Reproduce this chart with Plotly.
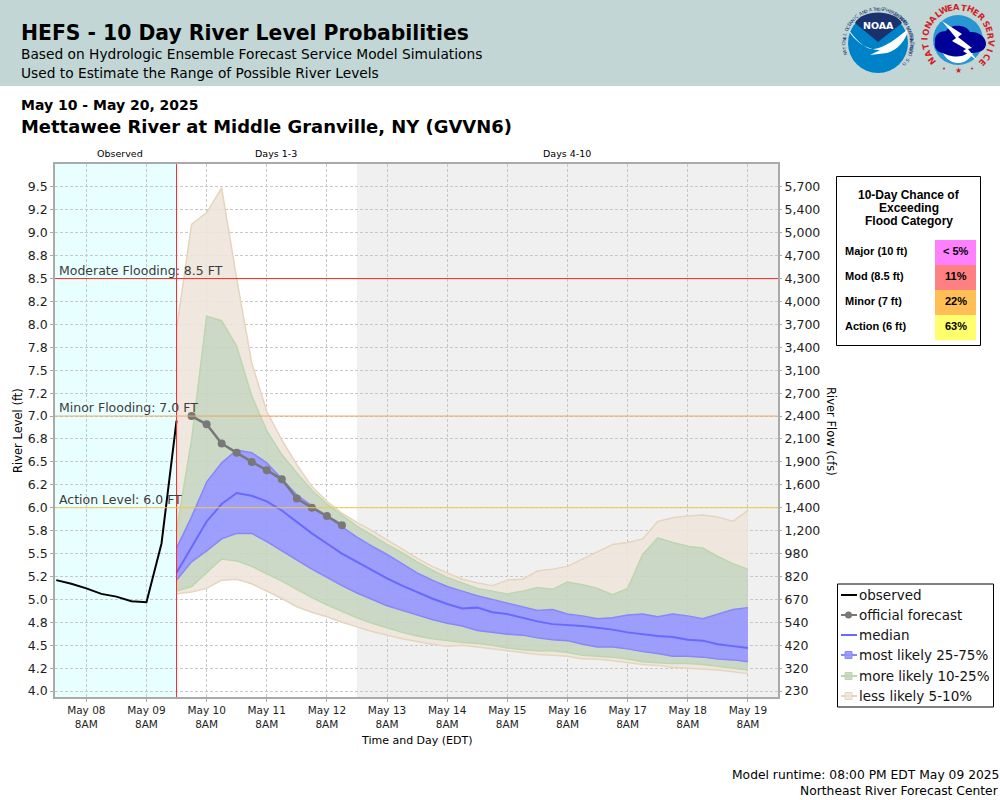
import math

import pandas as pd
import plotly.graph_objects as go

# river levels in ft, every 6 hours
observed_times = pd.date_range("2025-05-07 20:00", periods=9, freq="6h")
observed = [5.21, 5.17, 5.12, 5.06, 5.03, 4.98, 4.97, 5.61, 6.95]

forecast_times = pd.date_range("2025-05-09 20:00", periods=39, freq="6h")
official = [7.00, 6.91, 6.70, 6.60, 6.50, 6.41, 6.31, 6.10, 6.00, 5.91, 5.81]

p95 = [7.95, 9.09, 9.22, 9.49, 8.50, 7.58, 7.05, 6.74, 6.47, 6.23, 6.07, 5.94, 5.84,
       5.75, 5.65, 5.55, 5.45, 5.36, 5.29, 5.22, 5.18, 5.15, 5.21, 5.22, 5.31, 5.33,
       5.36, 5.44, 5.52, 5.60, 5.62, 5.66, 5.85, 5.89, 5.91, 5.92, 5.90, 5.85, 5.97]
p90 = [5.75, 6.74, 8.09, 8.04, 7.76, 7.22, 6.84, 6.58, 6.38, 6.19, 6.04, 5.92, 5.80,
       5.70, 5.60, 5.51, 5.41, 5.32, 5.24, 5.18, 5.12, 5.09, 5.06, 5.09, 5.13, 5.11,
       5.19, 5.16, 5.12, 5.05, 5.12, 5.49, 5.67, 5.62, 5.58, 5.56, 5.47, 5.39, 5.33]
p75 = [5.56, 5.90, 6.28, 6.49, 6.63, 6.60, 6.49, 6.32, 6.14, 6.02, 5.90, 5.79, 5.68,
       5.58, 5.49, 5.39, 5.29, 5.21, 5.14, 5.09, 5.04, 5.00, 4.96, 4.92, 4.88, 4.89,
       4.84, 4.82, 4.79, 4.80, 4.83, 4.84, 4.81, 4.84, 4.82, 4.79, 4.84, 4.89, 4.91]
median = [5.29, 5.57, 5.85, 6.04, 6.16, 6.13, 6.07, 5.97, 5.84, 5.72, 5.61, 5.50, 5.41,
          5.32, 5.23, 5.15, 5.08, 5.01, 4.95, 4.90, 4.91, 4.86, 4.84, 4.80, 4.76, 4.73,
          4.72, 4.71, 4.69, 4.67, 4.64, 4.62, 4.60, 4.59, 4.56, 4.55, 4.51, 4.49, 4.47]
p25 = [5.21, 5.41, 5.53, 5.66, 5.72, 5.72, 5.63, 5.53, 5.43, 5.33, 5.24, 5.15, 5.07,
       5.00, 4.93, 4.88, 4.83, 4.78, 4.74, 4.71, 4.66, 4.64, 4.62, 4.61, 4.58, 4.56,
       4.55, 4.51, 4.48, 4.48, 4.46, 4.43, 4.41, 4.38, 4.38, 4.37, 4.35, 4.34, 4.32]
p10 = [5.09, 5.14, 5.29, 5.44, 5.42, 5.36, 5.28, 5.20, 5.11, 5.02, 4.94, 4.87, 4.80,
       4.74, 4.69, 4.64, 4.60, 4.57, 4.55, 4.53, 4.52, 4.50, 4.47, 4.45, 4.44, 4.44,
       4.42, 4.39, 4.38, 4.37, 4.35, 4.32, 4.31, 4.30, 4.30, 4.29, 4.27, 4.25, 4.23]
p05 = [5.06, 5.08, 5.12, 5.21, 5.22, 5.17, 5.09, 5.01, 4.92, 4.86, 4.81, 4.75, 4.70,
       4.65, 4.61, 4.57, 4.54, 4.51, 4.49, 4.50, 4.48, 4.46, 4.44, 4.42, 4.40, 4.39,
       4.38, 4.35, 4.35, 4.33, 4.31, 4.29, 4.28, 4.26, 4.25, 4.24, 4.23, 4.21, 4.19]

# axis ticks
level_ticks = [4.0, 4.25, 4.5, 4.75, 5.0, 5.25, 5.5, 5.75, 6.0, 6.25, 6.5, 6.75, 7.0,
               7.25, 7.5, 7.75, 8.0, 8.25, 8.5, 8.75, 9.0, 9.25, 9.5]
level_labels = ["4.0", "4.2", "4.5", "4.8", "5.0", "5.2", "5.5", "5.8", "6.0", "6.2", "6.5", "6.8",
                "7.0", "7.2", "7.5", "7.8", "8.0", "8.2", "8.5", "8.8", "9.0", "9.2", "9.5"]
flow_labels = ["230", "320", "420", "540", "670", "820", "980", "1,200", "1,400", "1,600", "1,900",
               "2,100", "2,400", "2,700", "3,100", "3,400", "3,700", "4,000", "4,300", "4,700",
               "5,000", "5,400", "5,700"]
day_ticks = pd.date_range("2025-05-08 08:00", periods=12, freq="24h")
day_labels = [d.strftime("May %d") + "<br>8AM" for d in day_ticks]

# flood thresholds
flood_levels = [8.5, 7.0, 6.0]
flood_labels = ["Moderate Flooding: 8.5 FT", "Minor Flooding: 7.0 FT", "Action Level: 6.0 FT"]
flood_colors = ["rgb(255,40,40)", "rgb(238,170,100)", "rgb(243,200,80)"]

# exceedance table
table_categories = ["Major (10 ft)", "Mod (8.5 ft)", "Minor (7 ft)", "Action (6 ft)"]
table_chances = ["< 5%", "11%", "22%", "63%"]
table_colors = ["rgb(255,128,255)", "rgb(255,128,128)", "rgb(255,191,85)", "rgb(255,255,110)"]

legend_names = ["observed", "official forecast", "median", "most likely 25-75%",
                "more likely 10-25%", "less likely 5-10%"]

TAN_LINE = "rgb(230,212,190)"
TAN_FILL = "rgba(238,229,218,0.88)"
GREEN_LINE = "rgb(188,214,174)"
GREEN_FILL = "rgba(196,212,190,0.88)"
BLUE_LINE = "rgb(135,135,250)"
BLUE_FILL = "rgba(150,150,252,0.92)"
MEDIAN_COLOR = "rgb(105,105,255)"
GRAY = "rgb(120,120,120)"

# plot area in window pixels
LEFT, RIGHT, TOP, BOTTOM = 55, 778, 164, 697
FONT = "DejaVu Sans"


def px(x):
    return (x - LEFT) / (RIGHT - LEFT)


def py(y):
    return 1 - (y - TOP) / (BOTTOM - TOP)


def pt(x, y):
    return f"{px(x)} {py(y)}"


fig = go.Figure()
shapes = []
notes = []


def text(x, y, s, size=12, anchor="left", color="black", family=FONT, angle=0):
    notes.append(dict(x=px(x), y=py(y), xref="paper", yref="paper", text=s, showarrow=False,
                      xanchor=anchor, yanchor="middle", textangle=angle, borderpad=0,
                      font=dict(family=family, size=size, color=color)))


def rect(x0, y0, x1, y1, fill, line=None, width=1):
    shapes.append(dict(type="rect", xref="paper", yref="paper", x0=px(x0), x1=px(x1),
                       y0=py(y0), y1=py(y1), fillcolor=fill, layer="above",
                       line=dict(color=line, width=width if line else 0)))


def circle(cx, cy, r, fill, line=None, width=1):
    shapes.append(dict(type="circle", xref="paper", yref="paper", x0=px(cx - r), x1=px(cx + r),
                       y0=py(cy - r), y1=py(cy + r), fillcolor=fill, layer="above",
                       line=dict(color=line, width=width if line else 0)))


def path(d, fill):
    shapes.append(dict(type="path", xref="paper", yref="paper", path=d, fillcolor=fill,
                       layer="above", line=dict(width=0)))


def ring_text(cx, cy, r, s, start, step, size, color, inward=False):
    # one rotated annotation per letter, angles are clockwise from the top
    for i, ch in enumerate(s):
        a = start + i * step
        rad = math.radians(a)
        text(cx + r * math.sin(rad), cy - r * math.cos(rad), ch, size=size, anchor="center",
             color=color, angle=a + 180 if inward else a)


# bands, each one fills down to the trace before it
bands = [
    (p05, TAN_LINE, None),
    (p10, GREEN_LINE, TAN_FILL),
    (p25, BLUE_LINE, GREEN_FILL),
    (p75, BLUE_LINE, BLUE_FILL),
    (p90, GREEN_LINE, GREEN_FILL),
    (p95, TAN_LINE, TAN_FILL),
]
for values, line_color, fill_color in bands:
    fig.add_trace(go.Scatter(x=forecast_times, y=values, mode="lines", showlegend=False,
                             line=dict(color=line_color, width=1.5), hoverinfo="skip",
                             fill="tonexty" if fill_color else None, fillcolor=fill_color))

fig.add_trace(go.Scatter(x=forecast_times, y=median, mode="lines", name="median", showlegend=False,
                         line=dict(color=MEDIAN_COLOR, width=2)))
fig.add_trace(go.Scatter(x=forecast_times[1:12], y=official, mode="lines+markers",
                         name="official forecast", showlegend=False,
                         line=dict(color=GRAY, width=2.5), marker=dict(color=GRAY, size=8)))
fig.add_trace(go.Scatter(x=observed_times, y=observed, mode="lines", name="observed",
                         showlegend=False, line=dict(color="black", width=2)))
# keeps the right hand axis alive
fig.add_trace(go.Scatter(x=[None], y=[None], yaxis="y2", showlegend=False))

# shaded periods and the forecast start line
shapes.append(dict(type="rect", xref="x", yref="paper", x0="2025-05-07 19:30", x1="2025-05-09 20:00",
                   y0=0, y1=1, fillcolor="rgb(232,255,255)", line=dict(width=0), layer="below"))
shapes.append(dict(type="rect", xref="x", yref="paper", x0="2025-05-12 20:00", x1="2025-05-19 20:00",
                   y0=0, y1=1, fillcolor="rgb(240,240,240)", line=dict(width=0), layer="below"))
shapes.append(dict(type="line", xref="x", yref="paper", x0="2025-05-09 20:00", x1="2025-05-09 20:00",
                   y0=0, y1=1, line=dict(color="rgb(255,40,40)", width=1), layer="above"))

for level, label, color in zip(flood_levels, flood_labels, flood_colors):
    shapes.append(dict(type="line", xref="paper", yref="y", x0=0, x1=1, y0=level, y1=level,
                       line=dict(color=color, width=1), layer="above"))
    notes.append(dict(x=px(58), y=level, xref="paper", yref="y", text=label, showarrow=False,
                      xanchor="left", yanchor="bottom", borderpad=0, yshift=0,
                      font=dict(family=FONT, size=12.5, color="rgb(60,60,60)")))

# header
rect(0, 0, 1000, 86, "rgb(194,215,213)")
text(20, 33, "<b>HEFS - 10 Day River Level Probabilities</b>", size=20.35)
text(20, 54, "Based on Hydrologic Ensemble Forecast Service Model Simulations", size=13.75)
text(20, 73, "Used to Estimate the Range of Possible River Levels", size=13.75)
text(20, 105, "<b>May 10 - May 20, 2025</b>", size=14)
text(20, 126, "<b>Mettawee River at Middle Granville, NY (GVVN6)</b>", size=17.95)

# NOAA logo
circle(878, 43, 30, "rgb(0,130,200)")
path(f"M {pt(855, 23)} C {pt(862, 9)} {pt(894, 9)} {pt(902, 23)} L {pt(878, 42)} Z", "rgb(25,50,110)")
path(f"M {pt(848, 29)} C {pt(856, 40)} {pt(866, 50)} {pt(874, 49)} C {pt(884, 48)} {pt(898, 38)} {pt(909, 28)} "
     f"C {pt(906, 40)} {pt(898, 50)} {pt(887, 53)} L {pt(870, 55)} L {pt(880, 50)} "
     f"C {pt(868, 50)} {pt(854, 42)} {pt(848, 29)} Z", "white")
text(878, 25, "<b>NOAA</b>", size=9.5, anchor="center", color="white")
ring_text(878, 43, 34, "NATIONAL OCEANIC AND ATMOSPHERIC ADMINISTRATION", -108, 4.6, 4.5, "rgb(25,50,110)")
ring_text(878, 43, 34, "U.S. DEPARTMENT OF COMMERCE", 128, -3.8, 4.5, "rgb(25,50,110)", inward=True)

# NWS logo
circle(958, 40, 25, "rgb(40,150,210)")
circle(958, 47, 16, "white")
path(f"M {pt(935, 42)} C {pt(934, 34)} {pt(941, 31)} {pt(946, 31)} C {pt(950, 24)} {pt(966, 24)} {pt(970, 32)} "
     f"C {pt(978, 31)} {pt(987, 37)} {pt(986, 45)} C {pt(984, 53)} {pt(975, 53)} {pt(968, 53)} "
     f"C {pt(960, 59)} {pt(948, 56)} {pt(943, 53)} C {pt(936, 52)} {pt(934, 47)} {pt(935, 42)} Z", "rgb(0,0,150)")
path(f"M {pt(942, 21)} L {pt(962, 34)} L {pt(958, 37)} L {pt(972, 48)} L {pt(968, 49)} L {pt(977, 60)} "
     f"L {pt(963, 51)} L {pt(966, 49)} L {pt(952, 41)} L {pt(956, 38)} Z", "white")
ring_text(958, 40, 33, "NATIONAL", -128, 13, 8.5, "rgb(210,30,40)")
ring_text(958, 40, 33, "WEATHER", -26, 12, 8.5, "rgb(210,30,40)")
ring_text(958, 40, 33, "SERVICE", 60, 12, 8.5, "rgb(210,30,40)")
for ann in notes[-22:]:
    ann["text"] = f"<b>{ann['text']}</b>"
text(958, 71, "★", size=8, anchor="center", color="rgb(210,30,40)")
text(944, 69, "•", size=7, anchor="center", color="rgb(210,30,40)")
text(972, 69, "•", size=7, anchor="center", color="rgb(210,30,40)")

# period labels and axis titles
text(120, 154, "Observed", size=9.5, anchor="center")
text(276, 154, "Days 1-3", size=9.5, anchor="center")
text(567, 154, "Days 4-10", size=9.5, anchor="center")
text(417, 740, "Time and Day (EDT)", size=11, anchor="center")
text(18, 431, "River Level (ft)", size=11.5, anchor="center", angle=-90)
text(831, 431, "River Flow (cfs)", size=11.5, anchor="center", angle=90)

# exceedance table
rect(836.5, 176.5, 980.5, 345.5, "white", "black", 1)
for i, line in enumerate(["10-Day Chance of", "Exceeding", "Flood Category"]):
    text(909, 195 + i * 13, f"<b>{line}</b>", size=12, anchor="center", family="Liberation Sans")
for i, (cat, chance, color) in enumerate(zip(table_categories, table_chances, table_colors)):
    y0 = 240 + i * 25
    rect(935, y0, 976, y0 + 25.2, color)
    text(844, y0 + 11, f"<b>{cat}</b>", size=11, family="Liberation Sans")
    text(955.5, y0 + 11, f"<b>{chance}</b>", size=11, anchor="center", family="Liberation Sans")

# legend is drawn by hand, the native one cannot make a symbol this short
rect(837.5, 584, 993.5, 707, "white", "black", 1)
legend_rows = [595, 615, 635, 655, 676, 696]
legend_lines = ["black", GRAY, MEDIAN_COLOR, BLUE_LINE, GREEN_LINE, TAN_LINE]
legend_fills = [None, None, None, BLUE_FILL, GREEN_FILL, TAN_FILL]
for name, row, color, fill in zip(legend_names, legend_rows, legend_lines, legend_fills):
    shapes.append(dict(type="line", xref="paper", yref="paper", x0=px(841), x1=px(857), y0=py(row), y1=py(row),
                       line=dict(color=color, width=2), layer="above"))
    if fill:
        rect(845, row - 3.5, 852, row + 3.5, fill, color, 1)
    text(858, row, name, size=13.5, color="rgb(20,20,20)")
circle(848.5, legend_rows[1], 3.5, GRAY)

# footer
text(1000, 775, "Model runtime: 08:00 PM EDT May 09 2025", size=12.3, anchor="right")
text(1000, 791, "Northeast River Forecast Center", size=12.3, anchor="right")

axis_gray = "rgb(170,170,170)"
grid = dict(showgrid=True, gridcolor="rgb(200,200,200)", gridwidth=1, griddash="3px,2px")
fig.update_layout(
    width=1000,
    height=800,
    autosize=False,
    margin=dict(l=LEFT, r=1000 - RIGHT, t=TOP, b=800 - BOTTOM, pad=0),
    paper_bgcolor="white",
    plot_bgcolor="white",
    showlegend=False,
    font=dict(family=FONT, color="rgb(30,30,30)"),
    shapes=shapes,
    annotations=notes,
    xaxis=dict(type="date", range=["2025-05-07 19:30", "2025-05-19 20:00"], tickvals=list(day_ticks),
               ticktext=day_labels, ticks="outside", ticklen=3, tickcolor=axis_gray,
               tickfont=dict(size=10.5), showline=True, linecolor=axis_gray, linewidth=1.5, mirror=True, **grid),
    yaxis=dict(range=[3.935, 9.75], tickvals=level_ticks, ticktext=level_labels, ticks="outside",
               ticklen=3, tickcolor=axis_gray, tickfont=dict(size=12.5), showline=True,
               linecolor=axis_gray, linewidth=1.5, mirror=True, zeroline=False, **grid),
    yaxis2=dict(range=[3.935, 9.75], overlaying="y", side="right", tickvals=level_ticks, ticktext=flow_labels,
                ticks="outside", ticklen=3, tickcolor=axis_gray, tickfont=dict(size=12.5), showgrid=False,
                zeroline=False),
)

# the page's default body margin would push the figure 8px off the window corner
fig.write_html("out.html", config={"displayModeBar": False},
               post_script="document.body.style.margin = '0';")
